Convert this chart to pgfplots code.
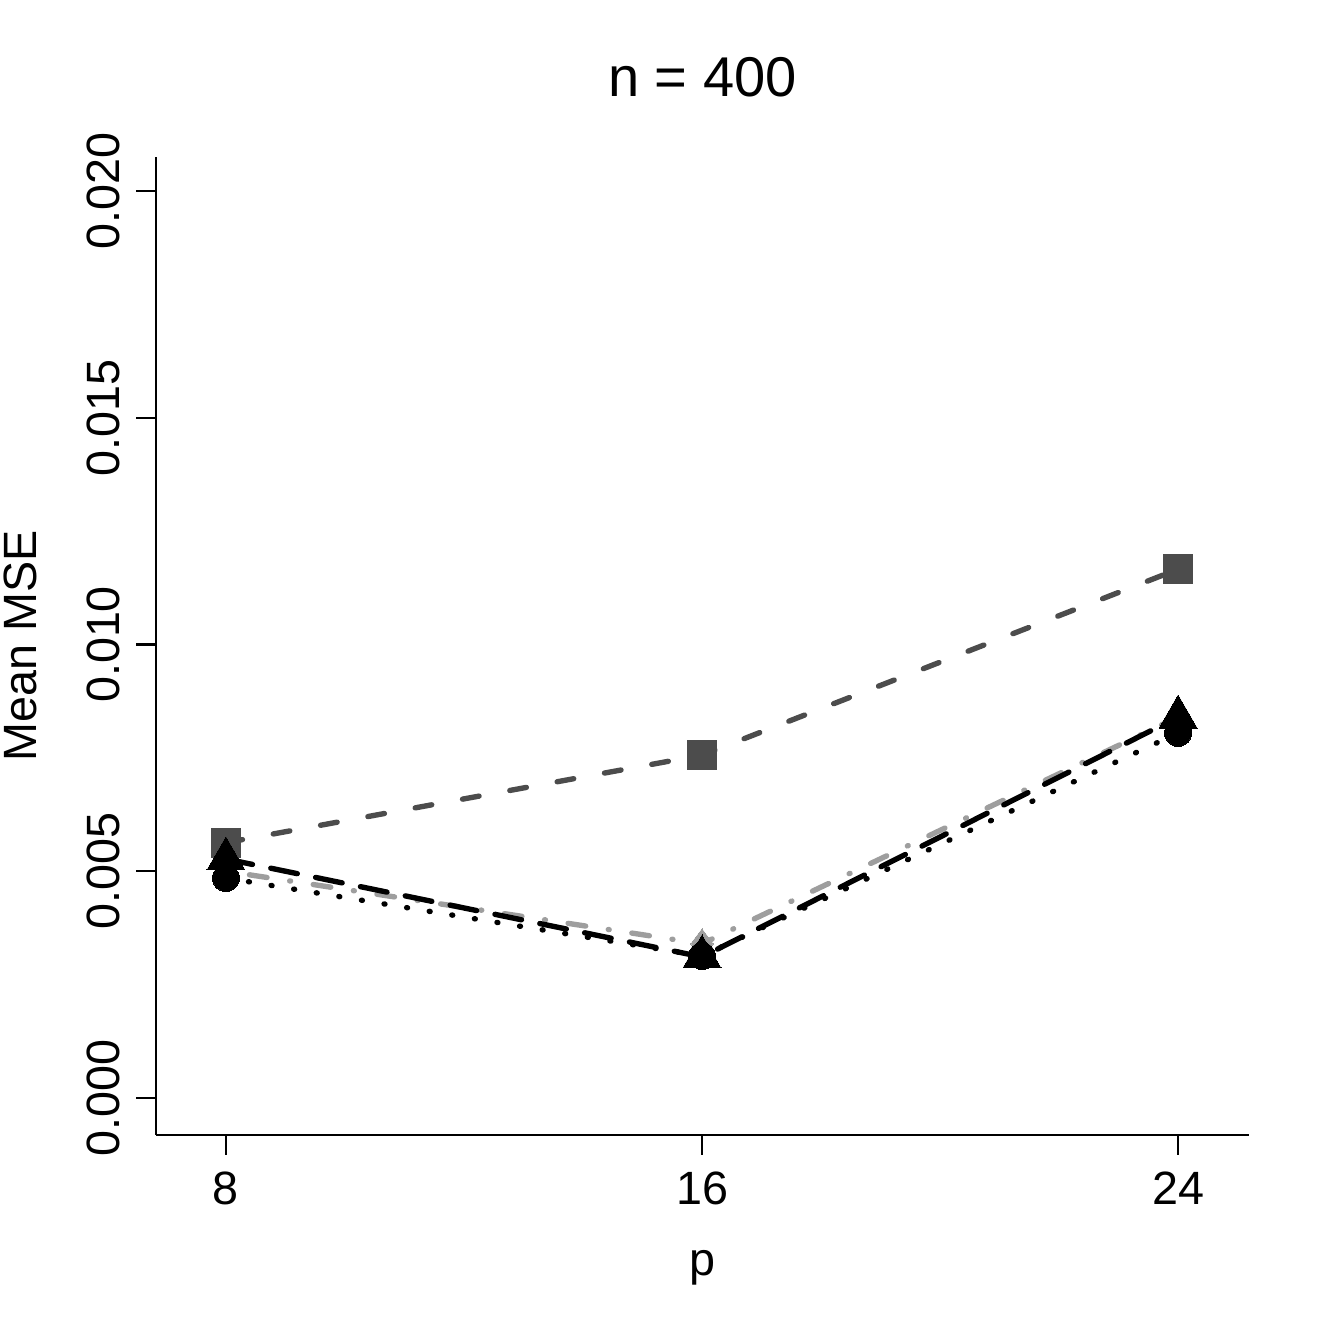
\documentclass[border=0pt]{standalone}
\usepackage{fontspec}
\setmainfont{Liberation Sans}
\usepackage{pgfplots}
\pgfplotsset{compat=1.18}
\definecolor{darkg}{gray}{0.30}
\definecolor{lightg}{gray}{0.62}

\begin{document}
\begin{tikzpicture}
\begin{axis}[
    scale only axis,
    width=8.224cm, height=7.359cm,
    axis lines*=left,
    axis line style={line width=0.45pt},
    xmin=6.824, xmax=25.19,
    ymin=-0.000816, ymax=0.02075,
    xtick={8,16,24},
    ytick={0,0.005,0.01,0.015,0.02},
    yticklabels={0.000,0.005,0.010,0.015,0.020},
    tick align=outside,
    major tick length=0.15cm,
    tick style={line width=0.45pt, black},
    font=\fontsize{10}{12}\selectfont,
    /pgf/number format/assume math mode=true,
    scaled y ticks=false,
    yticklabel style={rotate=90, anchor=south},
    xlabel={p},
    ylabel={Mean MSE},
    xlabel style={at={(axis description cs:0.5,-0.144)}, anchor=base},
    ylabel style={at={(axis description cs:-0.109,0.5)}, anchor=base},
    title={n = 400},
    title style={at={(axis description cs:0.5,1.033)}, anchor=base, font=\fontsize{12}{14}\selectfont},
    clip=false,
    every axis plot/.append style={line width=1.15pt, line cap=round},
]
% square series, dashed
\addplot[darkg, dash pattern=on 3.6pt off 6.7pt, mark=square*, mark size=3.1pt, mark options={solid, fill=darkg, draw=darkg, line width=0pt}]
  coordinates {(8,0.00563) (16,0.00756) (24,0.01166)};
% diamond series, dot-dash
\addplot[lightg, dash pattern=on 0.2pt off 4.9pt on 3.8pt off 4.9pt, mark=diamond*, mark size=3.2pt, mark options={solid, fill=lightg, draw=lightg, line width=0pt}]
  coordinates {(8,0.00500) (16,0.00340) (24,0.00840)};
% circle series, dotted
\addplot[black, dash pattern=on 0.2pt off 4.7pt, mark=*, mark size=2.9pt, mark options={solid, fill=black, line width=0pt}]
  coordinates {(8,0.00485) (16,0.00313) (24,0.00805)};
% triangle series, long dash
\addplot[black, dash pattern=on 5.8pt off 4pt, mark=triangle*, mark size=4.7pt, mark options={solid, fill=black, line width=0pt}]
  coordinates {(8,0.00527) (16,0.00311) (24,0.00840)};
\coordinate (bl) at (axis description cs:-0.1427,-0.1984);
\coordinate (tr) at (axis description cs:1.0732,1.1605);
\end{axis}
\pgfresetboundingbox
\path[use as bounding box] (bl) rectangle (tr);
\end{tikzpicture}
\end{document}
